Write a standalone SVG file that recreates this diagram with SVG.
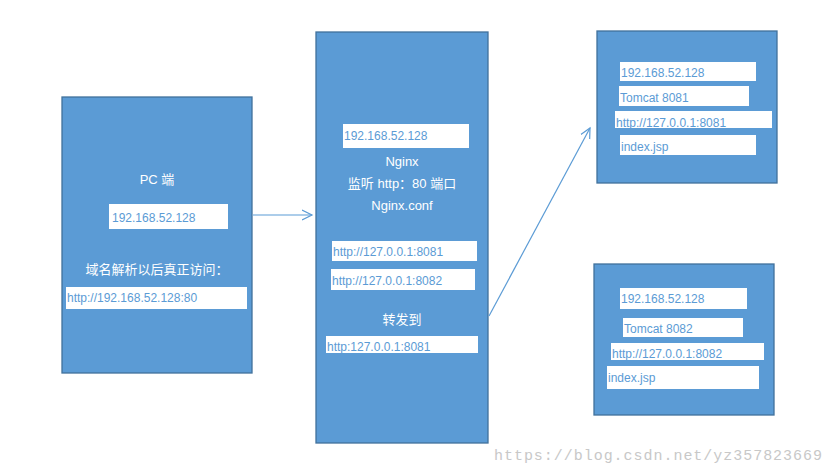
<svg xmlns="http://www.w3.org/2000/svg" width="834" height="475" viewBox="0 0 834 475">
<style>
.n{fill:#5B9BD5;stroke:#41719C;stroke-width:1.3}
.w{fill:#fff}
.t{font-family:"Liberation Sans","Noto Sans CJK SC",sans-serif;fill:#fff;font-size:13px;text-anchor:middle}
.b{font-family:"Liberation Sans","Noto Sans CJK SC",sans-serif;fill:#5B9BD5;font-size:12px}
.c{stroke:#5B9BD5;stroke-width:1.2;fill:none}
</style>
<defs><marker id="a" markerWidth="12" markerHeight="12" refX="10" refY="6" orient="auto" markerUnits="userSpaceOnUse"><path d="M0,1 L10,6 L0,11" fill="none" stroke="#5B9BD5" stroke-width="1.2"/></marker></defs>
<rect width="834" height="475" fill="#fff"/>
<g id="pc">
<rect class="n" x="62" y="97" width="190" height="276"/>
<text class="t" x="157" y="184">PC 端</text>
<rect class="w" x="109" y="204" width="119" height="25"/>
<text class="b" x="112" y="222" font-size="15">192.168.52.128</text>
<text class="t" x="157" y="274" font-size="14">域名解析以后真正访问：</text>
<rect class="w" x="66" y="287" width="181" height="22"/>
<text class="b" x="67" y="302">http://192.168.52.128:80</text>
</g>
<g id="nginx">
<rect class="n" x="316" y="32" width="172" height="411"/>
<rect class="w" x="343" y="124" width="126" height="24"/>
<text class="b" x="344" y="140">192.168.52.128</text>
<text class="t" x="402" y="166">Nginx</text>
<text class="t" x="402" y="188" font-size="14">监听 http：80 端口</text>
<text class="t" x="402" y="210">Nginx.conf</text>
<rect class="w" x="332" y="241" width="145" height="20"/>
<text class="b" x="333" y="256">http://127.0.0.1:8081</text>
<rect class="w" x="331" y="269" width="144" height="21"/>
<text class="b" x="332" y="285">http://127.0.0.1:8082</text>
<text class="t" x="402" y="324" font-size="14">转发到</text>
<rect class="w" x="326" y="336" width="152" height="17"/>
<text class="b" x="327" y="351">http:127.0.0.1:8081</text>
</g>
<g id="tomcat1">
<rect class="n" x="597" y="31" width="180" height="152"/>
<rect class="w" x="620" y="62" width="136" height="19"/>
<text class="b" x="621" y="77">192.168.52.128</text>
<rect class="w" x="619" y="86" width="130" height="20"/>
<text class="b" x="620" y="102">Tomcat 8081</text>
<rect class="w" x="615" y="111" width="157" height="17"/>
<text class="b" x="616" y="127">http://127.0.0.1:8081</text>
<rect class="w" x="620" y="135" width="136" height="20"/>
<text class="b" x="621" y="151">index.jsp</text>
</g>
<g id="tomcat2">
<rect class="n" x="594" y="264" width="180" height="151"/>
<rect class="w" x="620" y="288" width="127" height="21"/>
<text class="b" x="621" y="303">192.168.52.128</text>
<rect class="w" x="623" y="318" width="120" height="19"/>
<text class="b" x="624" y="333">Tomcat 8082</text>
<rect class="w" x="611" y="343" width="153" height="17"/>
<text class="b" x="612" y="358">http://127.0.0.1:8082</text>
<rect class="w" x="607" y="366" width="152" height="23"/>
<text class="b" x="608" y="382">index.jsp</text>
</g>
<g id="connectors">
<line class="c" x1="253" y1="215" x2="312" y2="215" marker-end="url(#a)"/>
<line class="c" x1="489" y1="316" x2="590" y2="128" marker-end="url(#a)"/>
</g>
<text x="494" y="460" font-family="Liberation Mono,monospace" font-size="15" fill="#c8c8c8" textLength="328">https://blog.csdn.net/yz357823669</text>
</svg>
